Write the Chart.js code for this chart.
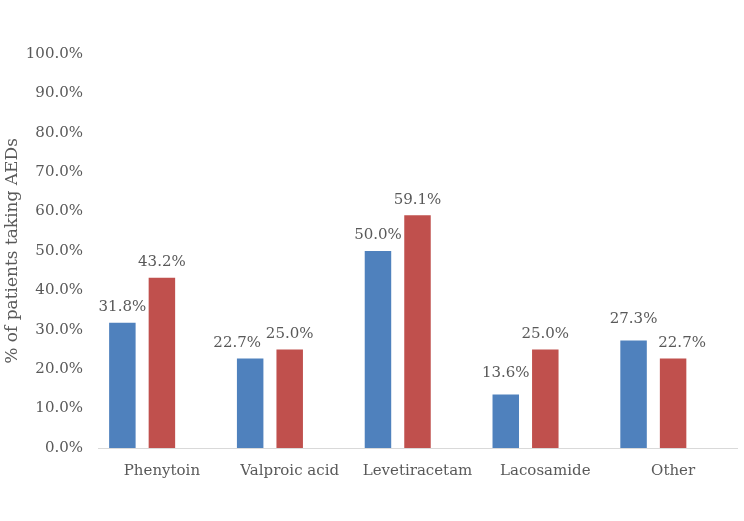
<!DOCTYPE html>
<html>
<head>
<meta charset="utf-8">
<script src="https://cdn.jsdelivr.net/npm/chart.js@4"></script>
<style>
  html, body { margin: 0; padding: 0; background: #fff; }
  #wrap { width: 744px; height: 521px; }
</style>
</head>
<body>
<div id="wrap"><canvas id="barCanvas" width="744" height="521"></canvas></div>
<script>
// categories and values
const drugs = ['Phenytoin', 'Valproic acid', 'Levetiracetam', 'Lacosamide', 'Other'];
const seriesA = [31.8, 22.7, 50.0, 13.6, 27.3];
const seriesB = [43.2, 25.0, 59.1, 25.0, 22.7];
const yTicks = [0, 10, 20, 30, 40, 50, 60, 70, 80, 90, 100];

const textColor = '#595959';
const fontFamily = "'DejaVu Serif', serif";

// small hand nudges for labels Excel moved to avoid overlap: [dataset][index] -> [dx, dy]
const labelNudge = { '0-1': [-13, 0], '0-3': [0, -6], '0-4': [0, -6], '1-4': [9, 0] };

const valueLabels = {
    id: 'valueLabels',
    afterDatasetsDraw(chart) {
        const ctx = chart.ctx;
        ctx.save();
        ctx.font = '15px ' + fontFamily;
        ctx.fillStyle = textColor;
        ctx.textAlign = 'center';
        ctx.textBaseline = 'bottom';
        [0, 1].forEach(di => {
            const meta = chart.getDatasetMeta(di);
            meta.data.forEach((bar, i) => {
                const v = chart.data.datasets[di].data[i];
                const n = labelNudge[di + '-' + i] || [0, 0];
                ctx.fillText(v.toFixed(1) + '%', bar.x + n[0], bar.y - 8 + n[1]);
            });
        });
        ctx.restore();
    }
};

const ctx = document.getElementById('barCanvas').getContext('2d');
const chart = new Chart(ctx, {
    type: 'bar',
    data: {
        labels: drugs,
        datasets: [
            { label: 'A', data: seriesA, backgroundColor: '#4F81BD' },
            { label: 'B', data: seriesB, backgroundColor: '#C0504D' },
            // empty third series keeps Excel's slot layout
            { label: 'C', data: [], backgroundColor: '#9BBB59' }
        ]
    },
    options: {
        responsive: false,
        animation: false,
        categoryPercentage: 0.928,
        barPercentage: 0.67,
        layout: { padding: { top: 54, right: 7, bottom: 0, left: 2 } },
        plugins: {
            legend: { display: false },
            tooltip: { enabled: false }
        },
        scales: {
            x: {
                grid: { display: false, drawTicks: false },
                border: { display: true, color: '#D9D9D9', width: 1 },
                ticks: { color: textColor, font: { family: fontFamily, size: 15 }, padding: 14, maxRotation: 0 },
                afterFit(scale) { scale.height = 73; }
            },
            y: {
                min: 0,
                max: 100,
                afterBuildTicks(scale) { scale.ticks = yTicks.map(v => ({ value: v })); },
                grid: { display: false, drawTicks: false },
                border: { display: false },
                ticks: {
                    color: textColor,
                    font: { family: fontFamily, size: 15 },
                    padding: 15,
                    callback: v => v.toFixed(1) + '%'
                },
                title: {
                    display: true,
                    text: '% of patients taking AEDs',
                    color: textColor,
                    font: { family: fontFamily, size: 17 },
                    padding: 0
                },
                afterFit(scale) { scale.width = 96; }
            }
        }
    },
    plugins: [valueLabels]
});
</script>
</body>
</html>
